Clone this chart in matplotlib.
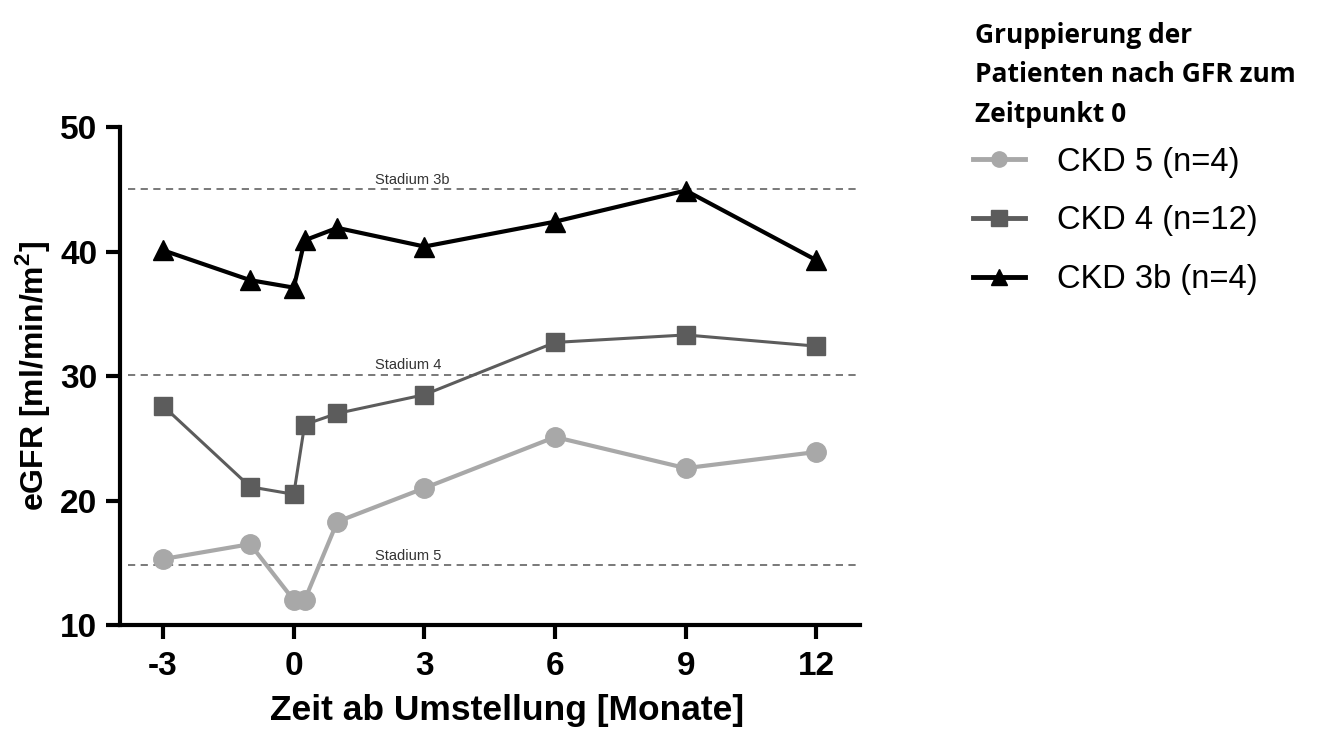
import matplotlib
matplotlib.use('Agg')
import matplotlib.pyplot as plt
from matplotlib.lines import Line2D

plt.rcParams['font.family'] = ['Liberation Sans', 'DejaVu Sans']
plt.rcParams['mathtext.fontset'] = 'custom'
plt.rcParams['mathtext.rm'] = 'Liberation Sans:bold'
plt.rcParams['mathtext.bf'] = 'Liberation Sans:bold'

# Zeitpunkte (Monate ab Umstellung)
months = [-3, -1, 0, 0.25, 1, 3, 6, 9, 12]

# eGFR Mittelwerte je Gruppe
ckd5 = [15.3, 16.5, 12.0, 12.0, 18.3, 21.0, 25.1, 22.6, 23.9]
ckd4 = [27.6, 21.1, 20.5, 26.1, 27.0, 28.5, 32.7, 33.3, 32.4]
ckd3b = [40.1, 37.7, 37.1, 40.9, 41.9, 40.4, 42.4, 44.9, 39.3]

labels = ['CKD 5 (n=4)', 'CKD 4 (n=12)', 'CKD 3b (n=4)']

# Stadiengrenzen
stage_names = ['Stadium 3b', 'Stadium 4', 'Stadium 5']
stage_values = [45, 30.1, 14.8]

xticks = [-3, 0, 3, 6, 9, 12]
yticks = [10, 20, 30, 40, 50]

title_lines = ['Gruppierung der', 'Patienten nach GFR zum', 'Zeitpunkt 0']

fig = plt.figure(figsize=(13.28, 7.33), dpi=100)
ax = fig.add_axes([0.090, 0.1473, 0.5576, 0.6794])

# Gestrichelte Stadienlinien
for name, val in zip(stage_names, stage_values):
    ax.plot([-3.8, 13], [val, val], linestyle=(0, (4, 3)), color='#6e6e6e',
            linewidth=1.3, zorder=1)
    ax.text(1.87, val + 0.45, name, fontsize=10.5, color='#333333',
            ha='left', va='baseline')

ax.plot(months, ckd5, color='#a8a8a8', linewidth=3, marker='o',
        markersize=14, zorder=3)
ax.plot(months, ckd4, color='#5c5c5c', linewidth=2.2, marker='s',
        markersize=13, zorder=3)
ax.plot(months, ckd3b, color='black', linewidth=3, marker='^',
        markersize=14, zorder=4)

ax.set_xlim(-4, 13)
ax.set_ylim(10, 50)
ax.set_xticks(xticks)
ax.set_yticks(yticks)
ax.set_xticklabels([str(t) for t in xticks])
ax.set_yticklabels([str(t) for t in yticks])

for side in ['top', 'right']:
    ax.spines[side].set_visible(False)
for side in ['left', 'bottom']:
    ax.spines[side].set_linewidth(3)
ax.tick_params(axis='both', direction='out', length=10, width=3,
               labelsize=24)
ax.tick_params(axis='x', pad=9)
ax.tick_params(axis='y', pad=6)
for lbl in ax.get_xticklabels() + ax.get_yticklabels():
    lbl.set_fontweight('bold')

ax.set_xlabel('Zeit ab Umstellung [Monate]', fontsize=25.5, fontweight='bold')
ax.xaxis.set_label_coords(0.523, -0.138)
ax.set_ylabel(r'eGFR [ml/min/m$^2$]', fontsize=23, fontweight='bold',
              labelpad=6)

# Legende
for i, line in enumerate(title_lines):
    fig.text(0.734, 1 - (43 + 39.5 * i) / 733, line,
             family=['Open Sans', 'DejaVu Sans'], fontsize=19,
             fontweight='bold', ha='left', va='baseline')

handles = [
    Line2D([], [], color='#a8a8a8', linewidth=3.5, marker='o', markersize=11),
    Line2D([], [], color='#5c5c5c', linewidth=3.5, marker='s', markersize=12),
    Line2D([], [], color='black', linewidth=3.5, marker='^', markersize=12),
]
fig.legend(handles, labels, loc='upper left', bbox_to_anchor=(0.7327, 0.8),
           frameon=False, fontsize=23.5, handlelength=1.6, handletextpad=0.98,
           labelspacing=0.85, borderpad=0, borderaxespad=0)

fig.savefig('out.png', dpi=100)
